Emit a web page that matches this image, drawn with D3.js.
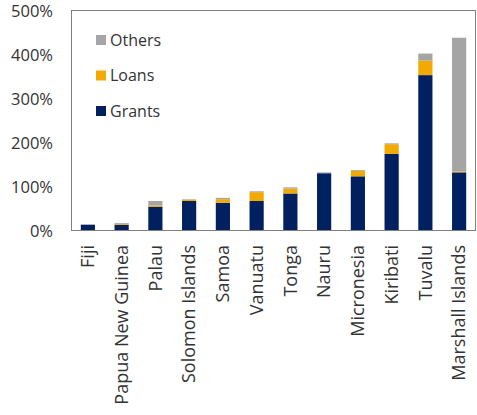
<!DOCTYPE html>
<html><head><meta charset="utf-8">
<script src="https://cdn.jsdelivr.net/npm/d3@7"></script>
<style>body{margin:0;background:#fff}svg{display:block}</style>
</head><body>
<svg id="c" width="477" height="415"></svg>
<script>
const categories = ["Fiji","Papua New Guinea","Palau","Solomon Islands","Samoa","Vanuatu","Tonga","Nauru","Micronesia","Kiribati","Tuvalu","Marshall Islands"];
const grants = [12, 12, 53, 66, 62, 66, 83, 129, 122, 173, 352, 131];
const loans  = [0, 2, 3, 3, 8, 20, 11, 0, 12, 22, 33, 2];
const others = [1, 2, 10, 1, 3, 2, 3, 2, 2, 2, 16, 304];
const yTicks = [0, 100, 200, 300, 400, 500];
const seriesNames = ["Grants","Loans","Others"];
const colors = {Grants:"#002060", Loans:"#F2A900", Others:"#A5A5A5"};

const svg = d3.select("#c");
const m = {l:71, r:476, t:10, b:230};
const x = d3.scaleBand().domain(categories).range([m.l, m.r]).paddingInner(0.58).paddingOuter(0.29);
const y = d3.scaleLinear().domain([0, 500]).range([m.b, m.t]);

const rows = categories.map((c,i)=>({cat:c, Grants:grants[i], Loans:loans[i], Others:others[i]}));
const stack = d3.stack().keys(seriesNames)(rows);

svg.append("g").selectAll("g").data(stack).join("g")
  .attr("fill", d=>colors[d.key])
  .selectAll("rect").data(d=>d).join("rect")
  .attr("x", d=>x(d.data.cat))
  .attr("width", x.bandwidth())
  .attr("y", d=>y(d[1]))
  .attr("height", d=>Math.max(0, y(d[0])-y(d[1])));

// frame
svg.append("rect").attr("x", m.l+0.5).attr("y", m.t+0.5)
  .attr("width", m.r-m.l-1).attr("height", m.b-m.t)
  .attr("fill","none").attr("stroke","#7f7f7f").attr("stroke-width",1);

const font = "'Open Sans', 'Noto Sans', sans-serif";
// y axis
const ya = svg.append("g").attr("transform", `translate(${m.l},0)`)
  .call(d3.axisLeft(y).tickValues(yTicks).tickFormat(d=>d+"%").tickSize(0).tickPadding(18));
ya.select(".domain").remove();
ya.selectAll("text").attr("font-family", font).attr("font-size", 16.5).attr("fill","#333")
  .attr("dy","0.4em");

// x axis
const xa = svg.append("g").attr("transform", `translate(0,${m.b})`)
  .call(d3.axisBottom(x).tickSize(0).tickPadding(0));
xa.select(".domain").remove();
xa.selectAll("text")
  .attr("font-family", font).attr("font-size", 18).attr("fill","#333")
  .attr("transform","rotate(-90)")
  .attr("text-anchor","end")
  .attr("x", -15).attr("y", 0).attr("dy","0.35em");

// legend
const leg = svg.append("g");
const legItems = ["Others","Loans","Grants"];
legItems.forEach((k,i)=>{
  const cy = 40 + i*35.5;
  leg.append("rect").attr("x",96).attr("y",cy-5).attr("width",10).attr("height",10).attr("fill",colors[k]);
  leg.append("text").attr("x",110).attr("y",cy).attr("dy","0.35em")
    .attr("font-family",font).attr("font-size",16).attr("fill","#333").text(k);
});
</script>
</body></html>
